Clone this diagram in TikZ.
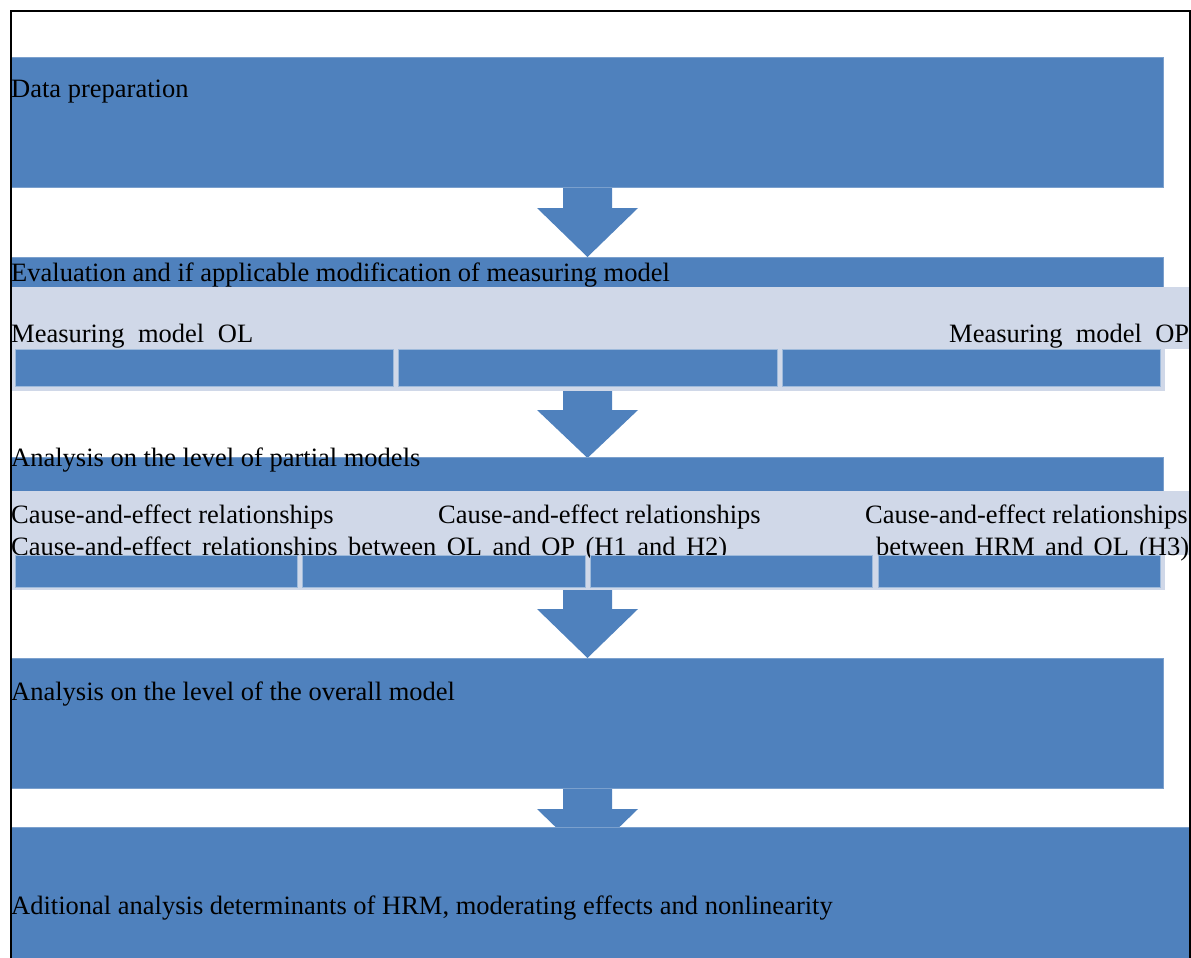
\documentclass[tikz,border=0pt]{standalone}
\usepackage{fontspec}
\setmainfont{Liberation Serif}
\definecolor{dblue}{HTML}{4F81BD}
\definecolor{lblue}{HTML}{D0D8E8}
\tikzset{
 blk/.style={fill=dblue, draw=dblue!75!white, line width=0.8pt, inner sep=0, anchor=north west},
 strip/.style={fill=lblue, inner sep=0, anchor=north west},
 subbox/.style={fill=dblue, draw=dblue!55!white, line width=0.8pt, inner sep=0, anchor=north west},
 lbl/.style={inner sep=0, anchor=base west, font=\fontsize{26.5}{30}\selectfont},
 blockarrow/.style={fill=dblue}
}
\newcommand{\myblockarrow}[3]{%
 \fill[blockarrow] (563,#1) -- (612,#1) -- (612,#2) -- (638,#2) -- (587.5,#3) -- (537,#2) -- (563,#2) -- cycle;}
\begin{document}
\begin{tikzpicture}[x=1pt,y=-1pt]
\useasboundingbox (0,0) rectangle (1191,958);
% block arrows
\myblockarrow{187}{208}{257}
\myblockarrow{391}{410}{458}
\myblockarrow{590}{609}{658}
\myblockarrow{788}{809}{858}
% main boxes
\node[blk, minimum width=1152pt, minimum height=130pt] (b1) at (11,57) {};
\node[blk, minimum width=1152pt, minimum height=30pt] (b2) at (11,257) {};
\node[strip, minimum width=1178pt, minimum height=62pt] (s2) at (11,287) {};
\node[strip, minimum width=1154pt, minimum height=44pt] (c2) at (11,347) {};
\node[blk, minimum width=1152pt, minimum height=34pt] (b3) at (11,457) {};
\node[strip, minimum width=1178pt, minimum height=64pt] (s3) at (11,491) {};
\node[strip, minimum width=1154pt, minimum height=38pt] (c3) at (11,552) {};
\node[blk, minimum width=1152pt, minimum height=130pt] (b4) at (11,658) {};
\node[blk, minimum width=1180pt, minimum height=150pt] (b5) at (11,827) {};
% texts
\node[lbl] (t1) at (11,97) {Data preparation};
\node[lbl] (t2) at (11,281) {Evaluation and if applicable modification of measuring model};
\node[lbl] (t3) at (11,342) {\makebox[242pt][s]{Measuring model OL}};
\node[lbl] (t4) at (949,342) {\makebox[240pt][s]{Measuring model OP}};
\node[lbl] (t5) at (11,466) {Analysis on the level of partial models};
\node[lbl] (t6a) at (11,523) {Cause-and-effect relationships};
\node[lbl] (t6b) at (438,523) {Cause-and-effect relationships};
\node[lbl] (t6c) at (865,523) {Cause-and-effect relationships};
\node[lbl] (t6d) at (11,555) {\makebox[716pt][s]{Cause-and-effect relationships between OL and OP (H1 and H2)}};
\node[lbl] (t6e) at (876,555) {\makebox[313pt][s]{between HRM and OL (H3)}};
\node[lbl] (t7) at (11,700) {Analysis on the level of the overall model};
\node[lbl] (t8) at (11,914) {Aditional analysis determinants of HRM, moderating effects and nonlinearity};
% sub boxes
\node[subbox, minimum width=378pt, minimum height=37pt] (m1) at (15,349) {};
\node[subbox, minimum width=379pt, minimum height=37pt] (m2) at (398,349) {};
\node[subbox, minimum width=378pt, minimum height=37pt] (m3) at (782,349) {};
\node[subbox, minimum width=282pt, minimum height=32pt] (p1) at (15,555) {};
\node[subbox, minimum width=283pt, minimum height=32pt] (p2) at (302,555) {};
\node[subbox, minimum width=282pt, minimum height=32pt] (p3) at (590,555) {};
\node[subbox, minimum width=282pt, minimum height=32pt] (p4) at (878,555) {};
% frame
\draw[line width=2pt] (10.5,970) -- (10.5,11) -- (1189.5,11) -- (1189.5,970);
\end{tikzpicture}
\end{document}
